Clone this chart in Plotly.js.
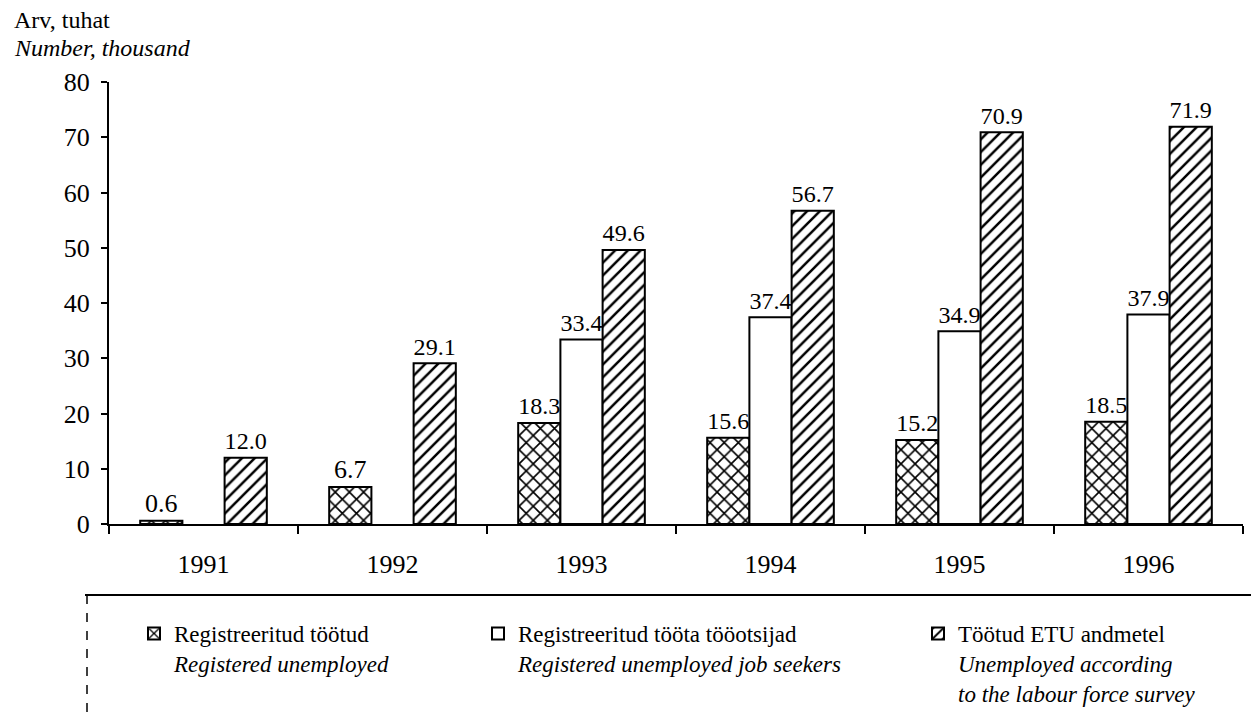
<!DOCTYPE html>
<html>
<head>
<meta charset="utf-8">
<script src="https://cdn.plot.ly/plotly-3.0.1.min.js"></script>
<style>html,body{margin:0;padding:0;background:#fff;}#chart{width:1251px;height:719px;}</style>
</head>
<body>
<div id="chart"></div>
<script>
const years = ['1991', '1992', '1993', '1994', '1995', '1996'];
const registeredUnemployed = [0.6, 6.7, 18.3, 15.6, 15.2, 18.5];
const jobSeekers = [null, null, 33.4, 37.4, 34.9, 37.9];
const lfsUnemployed = [12.0, 29.1, 49.6, 56.7, 70.9, 71.9];
const seriesNames = [
  'Registreeritud töötud<br><i>Registered unemployed</i>',
  'Registreeritud tööta tööotsijad<br><i>Registered unemployed job seekers</i>',
  'Töötud ETU andmetel<br><i>Unemployed according<br>to the labour force survey</i>'
];
const yTitle1 = 'Arv, tuhat';
const yTitle2 = 'Number, thousand';

const FONT = 'Liberation Serif, Times New Roman, serif';
const fmt = v => v == null ? '' : v.toFixed(1);

const common = {
  type: 'bar',
  x: years,
  textposition: 'outside',
  cliponaxis: false,
  textfont: {family: FONT, size: 26, color: '#000'},
  hoverinfo: 'skip'
};

const traces = [
  Object.assign({}, common, {
    name: seriesNames[0], y: registeredUnemployed, text: registeredUnemployed.map(fmt),
    legend: 'legend',
    marker: {color: '#fff', line: {color: '#000', width: 2},
      pattern: {shape: 'x', fgcolor: '#000', bgcolor: '#fff', size: 10, solidity: 0.3}}
  }),
  Object.assign({}, common, {
    name: seriesNames[1], y: jobSeekers, text: jobSeekers.map(fmt),
    legend: 'legend2',
    marker: {color: '#fff', line: {color: '#000', width: 2}}
  }),
  Object.assign({}, common, {
    name: seriesNames[2], y: lfsUnemployed, text: lfsUnemployed.map(fmt),
    legend: 'legend3',
    marker: {color: '#fff', line: {color: '#000', width: 2},
      pattern: {shape: '/', fgcolor: '#000', bgcolor: '#fff', size: 9, solidity: 0.28}}
  })
];

const W = 1134, H = 442, L = 109, T = 82;
const px = x => (x - L) / W;
const py = y => (T + H - y) / H;

const legendBase = {
  orientation: 'v', xanchor: 'left', yanchor: 'top', valign: 'top',
  bgcolor: 'rgba(0,0,0,0)', borderwidth: 0,
  font: {family: FONT, size: 23, color: '#000'},
  y: py(612)
};

const layout = {
  width: 1251, height: 719,
  margin: {l: L, r: 1251 - L - W, t: T, b: 719 - T - H, autoexpand: false},
  paper_bgcolor: '#fff', plot_bgcolor: '#fff',
  font: {family: FONT, size: 24, color: '#000'},
  barmode: 'group', bargap: 0.33, bargroupgap: 0,
  showlegend: true,
  legend: Object.assign({}, legendBase, {x: px(134)}),
  legend2: Object.assign({}, legendBase, {x: px(478)}),
  legend3: Object.assign({}, legendBase, {x: px(918)}),
  xaxis: {
    type: 'category', showline: true, linecolor: '#000', linewidth: 2,
    ticks: 'outside', tickson: 'boundaries', ticklen: 8, tickcolor: '#000', tickwidth: 2,
    showgrid: false, zeroline: false, ticklabelstandoff: 16,
    tickfont: {family: FONT, size: 26, color: '#000'}
  },
  yaxis: {
    range: [0, 80], dtick: 10, showline: true, linecolor: '#000', linewidth: 2,
    ticks: 'outside', ticklen: 6, tickcolor: '#000', tickwidth: 2,
    showgrid: false, zeroline: false, ticklabelstandoff: 6,
    tickfont: {family: FONT, size: 26, color: '#000'}
  },
  annotations: [
    {text: yTitle1, xref: 'paper', yref: 'paper', x: px(12), y: py(20), xanchor: 'left', yanchor: 'middle',
     showarrow: false, font: {family: FONT, size: 24, color: '#000'}},
    {text: '<i>' + yTitle2 + '</i>', xref: 'paper', yref: 'paper', x: px(12), y: py(48), xanchor: 'left', yanchor: 'middle',
     showarrow: false, font: {family: FONT, size: 24, color: '#000'}}
  ],
  shapes: [
    {type: 'line', xref: 'paper', yref: 'paper', x0: px(85), x1: px(1251), y0: py(595), y1: py(595),
     line: {color: '#000', width: 2}},
    {type: 'line', xref: 'paper', yref: 'paper', x0: px(87), x1: px(87), y0: py(595), y1: py(719),
     line: {color: '#000', width: 1.5, dash: 'dash'}}
  ]
};

Plotly.newPlot('chart', traces, layout, {displayModeBar: false, staticPlot: true});
</script>
</body>
</html>
